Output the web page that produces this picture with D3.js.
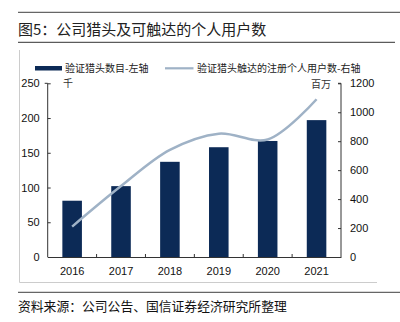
<!DOCTYPE html>
<html><head><meta charset="utf-8">
<script src="https://cdn.jsdelivr.net/npm/d3@7"></script>
<style>body{margin:0;background:#fff}svg{display:block}</style>
</head><body>
<svg id="c" width="400" height="322"></svg>
<script>
const years = ["2016","2017","2018","2019","2020","2021"];
const headhunters = [81, 102, 137, 158, 167, 197];      // 千, left axis
const users = [210, 490, 740, 852, 812, 1090];          // 百万, right axis
const leftTicks = [0, 50, 100, 150, 200, 250];
const rightTicks = [0, 200, 400, 600, 800, 1000, 1200];
const title = "图5：公司猎头及可触达的个人用户数";
const source = "资料来源：公司公告、国信证券经济研究所整理";
const legendLabels = ["验证猎头数目-左轴", "验证猎头触达的注册个人用户数-右轴"];

const svg = d3.select("#c");
const sans = "'Liberation Sans', Arial, sans-serif";
const cjk = "'Noto Sans CJK SC', sans-serif";
const barColor = "#0c2a56", lineColor = "#9fb2c6";

// rules
svg.append("line").attr("x1",18).attr("x2",400).attr("y1",12.3).attr("y2",12.3).attr("stroke","#666").attr("stroke-width",1.3);
svg.append("line").attr("x1",18).attr("x2",395).attr("y1",42.3).attr("y2",42.3).attr("stroke","#333").attr("stroke-width",1);
svg.append("line").attr("x1",18).attr("x2",400).attr("y1",292.3).attr("y2",292.3).attr("stroke","#666").attr("stroke-width",1.3);
svg.append("text").attr("x",18).attr("y",35).attr("font-family",cjk).attr("font-size",15).attr("fill","#222").text(title);
svg.append("text").attr("x",18).attr("y",311).attr("font-family",cjk).attr("font-size",12.8).attr("fill","#111").text(source);

// chart frame (left + bottom)
svg.append("path").attr("d","M19.5,50V282.5H377").attr("fill","none").attr("stroke","#ccc").attr("stroke-width",1);

const x0 = 47.7, x1 = 341, yb = 257, yt = 83.3;
const x = d3.scaleBand().domain(years).range([x0, x1]).paddingInner(0.6).paddingOuter(0.3);
const yL = d3.scaleLinear().domain([0,250]).range([yb, yt]);
const yR = d3.scaleLinear().domain([0,1200]).range([yb, yt]);

// bars
svg.append("g").selectAll("rect").data(years).join("rect")
  .attr("x", d => x(d)).attr("width", x.bandwidth())
  .attr("y", (d,i) => yL(headhunters[i])).attr("height", (d,i) => yb - yL(headhunters[i]))
  .attr("fill", barColor);

// line
const line = d3.line().x((d,i) => x(years[i]) + x.bandwidth()/2).y(d => yR(d)).curve(d3.curveCatmullRom.alpha(0.5));
svg.append("path").attr("d", line(users)).attr("fill","none").attr("stroke",lineColor).attr("stroke-width",2.5);

// axes
const axL = svg.append("g").attr("transform",`translate(${x0},0)`)
  .call(d3.axisLeft(yL).tickValues(leftTicks).tickFormat(d3.format("d")).tickSize(-3).tickPadding(8));
const axR = svg.append("g").attr("transform",`translate(${x1},0)`)
  .call(d3.axisRight(yR).tickValues(rightTicks).tickFormat(d3.format("d")).tickSize(-3).tickPadding(9));
const axB = svg.append("g").attr("transform",`translate(0,${yb})`)
  .call(d3.axisBottom(x).tickSize(0).tickPadding(10));
[axL, axR, axB].forEach(a => {
  a.select(".domain").attr("stroke","#333").attr("stroke-width",1);
  a.selectAll(".tick line").attr("stroke","#333");
  a.selectAll("text").attr("font-family",sans).attr("font-size",11).attr("fill","#111");
});
axL.select(".domain").attr("d", `M-3,${yt}H0V${yb}`);
axR.select(".domain").attr("d", `M-3,${yt}H0V${yb}`);
// category boundary ticks
const step = x.step();
svg.append("g").selectAll("line").data(years.slice(1)).join("line")
  .attr("x1", d => x(d) - (step - x.bandwidth())/2).attr("x2", d => x(d) - (step - x.bandwidth())/2)
  .attr("y1", yb).attr("y2", yb - 3).attr("stroke","#333");

// unit labels
svg.append("text").attr("x",63).attr("y",87).attr("font-family",cjk).attr("font-size",10).attr("fill","#333").text("千");
svg.append("text").attr("x",311).attr("y",88).attr("font-family",cjk).attr("font-size",10).attr("fill","#333").text("百万");

// legend
svg.append("rect").attr("x",35).attr("y",66).attr("width",27).attr("height",4.5).attr("fill",barColor);
svg.append("text").attr("x",65).attr("y",72).attr("font-family",cjk).attr("font-size",10).attr("fill","#222").text(legendLabels[0]);
svg.append("line").attr("x1",165).attr("x2",193.5).attr("y1",68.3).attr("y2",68.3).attr("stroke",lineColor).attr("stroke-width",2.2);
svg.append("text").attr("x",197).attr("y",72).attr("font-family",cjk).attr("font-size",10).attr("fill","#222").text(legendLabels[1]);
</script>
</body></html>
